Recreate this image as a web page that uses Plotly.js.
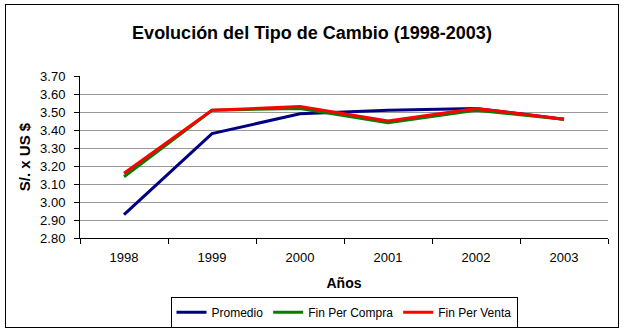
<!DOCTYPE html>
<html>
<head>
<meta charset="utf-8">
<script src="https://cdn.plot.ly/plotly-3.0.1.min.js"></script>
<style>
  html, body { margin: 0; padding: 0; background: #fff; }
  #wrap { position: relative; width: 624px; height: 333px; }
  #chart { width: 624px; height: 333px; }
  #frame { position: absolute; left: 5px; top: 4px; width: 612px; height: 322px;
           border: 1px solid #000; pointer-events: none; }
</style>
</head>
<body>
<div id="wrap">
  <div id="chart"></div>
  <div id="frame"></div>
</div>
<script>
// Tipo de cambio S/. por US $, 1998-2003
const years = ['1998', '1999', '2000', '2001', '2002', '2003'];
const promedio = [2.93, 3.38, 3.49, 3.51, 3.52, 3.46];
const finCompra = [3.14, 3.51, 3.52, 3.44, 3.51, 3.46];
const finVenta = [3.16, 3.51, 3.53, 3.45, 3.52, 3.46];
const yTicks = [2.80, 2.90, 3.00, 3.10, 3.20, 3.30, 3.40, 3.50, 3.60, 3.70];

const font = 'Arial, "Liberation Sans", sans-serif';

const traces = [
  { x: years, y: promedio, name: 'Promedio', mode: 'lines',
    line: { color: '#000080', width: 3 } },
  { x: years, y: finCompra, name: 'Fin Per Compra', mode: 'lines',
    line: { color: '#008000', width: 3 } },
  { x: years, y: finVenta, name: 'Fin Per Venta', mode: 'lines',
    line: { color: '#FF0000', width: 3 } }
];

const layout = {
  width: 624, height: 333,
  margin: { l: 80, r: 16, t: 76, b: 95, autoexpand: false },
  paper_bgcolor: 'rgba(0,0,0,0)',
  plot_bgcolor: '#fff',
  font: { family: font, color: '#000', size: 13 },
  title: { text: '<b>Evolución del Tipo de Cambio (1998-2003)</b>',
           font: { family: font, size: 18, color: '#000' },
           x: 0.5, xanchor: 'center', y: 0.902, yanchor: 'middle' },
  xaxis: {
    type: 'category', range: [-0.5, 5.5], tickson: 'boundaries',
    ticks: 'outside', ticklen: 5, tickcolor: '#000',
    showline: true, linecolor: '#000', linewidth: 1,
    showgrid: false, zeroline: false, fixedrange: true, automargin: false,
    tickfont: { size: 13 }, ticklabelstandoff: 7,
    title: { text: '<b>Años</b>', font: { size: 14 }, standoff: 14 }
  },
  yaxis: {
    range: [2.80, 3.70], tickvals: yTicks,
    ticktext: yTicks.map(v => v.toFixed(2)),
    ticks: 'outside', ticklen: 5, tickcolor: '#000',
    showline: true, linecolor: '#000', linewidth: 1,
    showgrid: true, gridcolor: '#999', gridwidth: 1,
    zeroline: false, fixedrange: true, automargin: false,
    tickfont: { size: 13 }, ticklabelstandoff: 6,
    title: { text: '<b>S/. x US $</b>', font: { size: 15 }, standoff: 5 }
  },
  showlegend: true,
  legend: {
    orientation: 'h', x: 0.5, xanchor: 'center',
    yref: 'container', y: 0.062, yanchor: 'middle',
    bordercolor: '#000', borderwidth: 1, bgcolor: '#fff',
    font: { size: 12 }, itemwidth: 30, tracegroupgap: 0
  }
};

Plotly.newPlot('chart', traces, layout, { displayModeBar: false, staticPlot: true });
</script>
</body>
</html>
